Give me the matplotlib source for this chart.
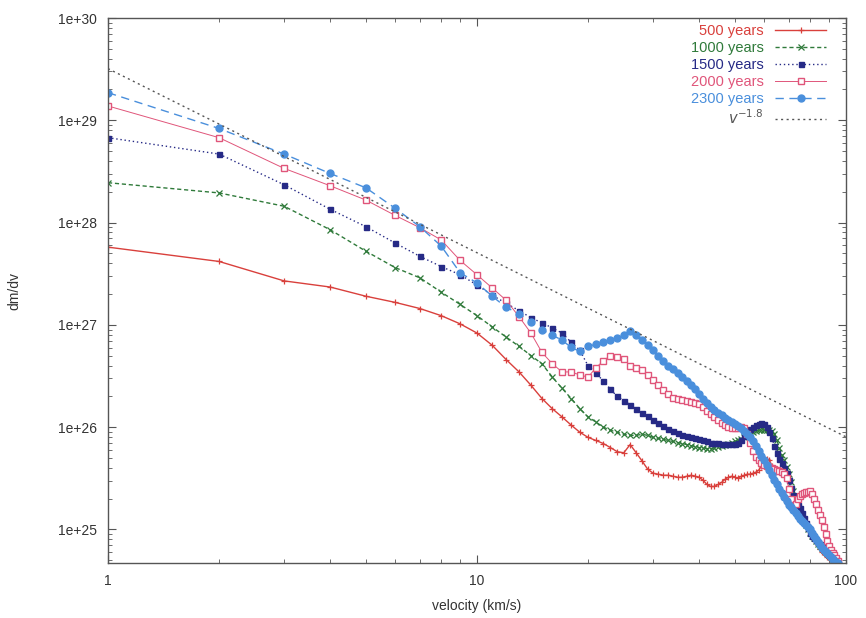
import numpy as np
import matplotlib
matplotlib.use("Agg")
import matplotlib.pyplot as plt
from matplotlib.ticker import FixedLocator, FuncFormatter, LogLocator, NullFormatter

plt.rcParams['font.family'] = ['Liberation Sans', 'DejaVu Sans']

# velocity bins (km/s)
velocity = np.arange(1, 96)

# log10(dm/dv), one value per km/s bin
log_dmdv_500 = [27.76, 27.62, 27.43, 27.37, 27.28, 27.22, 27.16, 27.09, 27.01, 26.92,
                26.80, 26.66, 26.54, 26.41, 26.28, 26.18, 26.10, 26.02, 25.95, 25.90,
                25.87, 25.84, 25.80, 25.76, 25.75, 25.83, 25.75, 25.67, 25.59, 25.55,
                25.54, 25.53, 25.53, 25.52, 25.51, 25.51, 25.52, 25.53, 25.52, 25.51,
                25.48, 25.44, 25.42, 25.42, 25.44, 25.46, 25.49, 25.51, 25.52, 25.51,
                25.50, 25.52, 25.53, 25.54, 25.54, 25.55, 25.56, 25.58, 25.62, 25.66,
                25.69, 25.68, 25.62, 25.54, 25.46, 25.40, 25.35, 25.30, 25.26, 25.23,
                25.21, 25.19, 25.17, 25.15, 25.13, 25.11, 25.09, 25.07, 25.04, 25.01,
                24.97, 24.93, 24.89, 24.85, 24.81, 24.78, 24.77, 24.75, 24.73, 24.72,
                24.71, 24.70, 24.69, 24.68, 24.67]

log_dmdv_1000 = [28.39, 28.29, 28.16, 27.93, 27.72, 27.56, 27.46, 27.32, 27.20, 27.09,
                 26.98, 26.88, 26.79, 26.70, 26.62, 26.49, 26.38, 26.28, 26.18, 26.10,
                 26.05, 26.00, 25.97, 25.95, 25.93, 25.92, 25.92, 25.93, 25.92, 25.90,
                 25.89, 25.88, 25.87, 25.86, 25.85, 25.84, 25.83, 25.82, 25.81, 25.80,
                 25.80, 25.79, 25.79, 25.80, 25.81, 25.82, 25.83, 25.84, 25.85, 25.86,
                 25.87, 25.88, 25.90, 25.92, 25.94, 25.95, 25.96, 25.97, 25.97, 25.97,
                 25.97, 25.97, 25.96, 25.93, 25.87, 25.80, 25.73, 25.68, 25.61, 25.54,
                 25.46, 25.38, 25.30, 25.23, 25.19, 25.14, 25.09, 25.04, 25.00, 24.97,
                 24.94, 24.92, 24.89, 24.86, 24.84, 24.82, 24.80, 24.78, 24.77, 24.75,
                 24.73, 24.71, 24.69, 24.67, 24.65]

log_dmdv_1500 = [28.83, 28.67, 28.37, 28.13, 27.96, 27.80, 27.67, 27.57, 27.49, 27.39,
                 27.29, 27.21, 27.14, 27.07, 27.02, 26.97, 26.92, 26.83, 26.75, 26.60,
                 26.53, 26.45, 26.37, 26.30, 26.26, 26.22, 26.18, 26.14, 26.11, 26.07,
                 26.04, 26.01, 25.98, 25.96, 25.94, 25.92, 25.91, 25.90, 25.89, 25.88,
                 25.87, 25.86, 25.85, 25.85, 25.85, 25.84, 25.84, 25.84, 25.84, 25.84,
                 25.85, 25.87, 25.91, 25.95, 25.98, 26.00, 26.02, 26.03, 26.04, 26.03,
                 26.00, 25.95, 25.89, 25.82, 25.75, 25.69, 25.65, 25.60, 25.55, 25.48,
                 25.41, 25.34, 25.28, 25.24, 25.21, 25.16, 25.11, 25.06, 25.01, 24.97,
                 24.94, 24.92, 24.90, 24.88, 24.86, 24.84, 24.82, 24.80, 24.77, 24.75,
                 24.73, 24.71, 24.69, 24.67, 24.65]

log_dmdv_2000 = [29.14, 28.83, 28.53, 28.36, 28.22, 28.07, 27.95, 27.83, 27.63, 27.49,
                 27.36, 27.24, 27.08, 26.92, 26.73, 26.62, 26.54, 26.54, 26.51, 26.49,
                 26.58, 26.65, 26.70, 26.69, 26.67, 26.60, 26.58, 26.56, 26.51, 26.46,
                 26.41, 26.36, 26.32, 26.29, 26.28, 26.27, 26.26, 26.25, 26.24, 26.23,
                 26.20, 26.16, 26.13, 26.10, 26.07, 26.04, 26.02, 26.00, 25.99, 25.99,
                 25.99, 26.00, 25.99, 25.93, 25.85, 25.77, 25.71, 25.68, 25.65, 25.63,
                 25.62, 25.61, 25.60, 25.59, 25.58, 25.57, 25.56, 25.54, 25.50, 25.40,
                 25.30, 25.23, 25.25, 25.30, 25.33, 25.35, 25.36, 25.37, 25.37, 25.38,
                 25.35, 25.30, 25.25, 25.19, 25.14, 25.09, 25.02, 24.96, 24.89, 24.84,
                 24.80, 24.77, 24.75, 24.72, 24.69]

log_dmdv_2300 = [29.27, 28.92, 28.67, 28.48, 28.34, 28.14, 27.96, 27.77, 27.51, 27.41,
                 27.28, 27.17, 27.11, 27.03, 26.95, 26.90, 26.85, 26.78, 26.74, 26.79,
                 26.81, 26.83, 26.85, 26.87, 26.90, 26.94, 26.90, 26.85, 26.80, 26.75,
                 26.70, 26.65, 26.60, 26.57, 26.53, 26.49, 26.45, 26.41, 26.37, 26.32,
                 26.28, 26.24, 26.20, 26.17, 26.14, 26.12, 26.09, 26.07, 26.05, 26.03,
                 26.01, 25.99, 25.96, 25.93, 25.90, 25.86, 25.82, 25.77, 25.72, 25.68,
                 25.63, 25.58, 25.53, 25.48, 25.44, 25.40, 25.36, 25.32, 25.28, 25.24,
                 25.22, 25.19, 25.16, 25.13, 25.10, 25.08, 25.06, 25.04, 25.02, 25.00,
                 24.97, 24.94, 24.91, 24.88, 24.85, 24.82, 24.80, 24.78, 24.77, 24.75,
                 24.73, 24.71, 24.69, 24.68, 24.67]

# power law reference: dm/dv = A * v^slope
powerlaw_amp = 3.2e29
powerlaw_slope = -1.8

labels = ['500 years', '1000 years', '1500 years', '2000 years', '2300 years']
colors = ['#d9403c', '#2f7a3a', '#262a86', '#e0557a', '#4a8fdc']

fig = plt.figure(figsize=(8.66, 6.18), dpi=100)
ax = fig.add_axes([108/866, 1 - 563/618, (846-108)/866, (563-18)/618])

ax.plot(velocity, 10**np.array(log_dmdv_500), color=colors[0], lw=1.0, ls='-',
        marker='+', ms=4.5, mew=0.9, label=labels[0])
ax.plot(velocity, 10**np.array(log_dmdv_1000), color=colors[1], lw=1.0, ls=(0, (3, 2)),
        marker='x', ms=4.5, mew=0.9, label=labels[1])
ax.plot(velocity, 10**np.array(log_dmdv_1500), color=colors[2], lw=1.0, ls=(0, (1, 2)),
        marker='s', ms=3.6, label=labels[2])
ax.plot(velocity, 10**np.array(log_dmdv_2000), color=colors[3], lw=0.7, ls='-',
        marker='s', ms=5, mfc='white', mew=1.0, label=labels[3])
ax.plot(velocity, 10**np.array(log_dmdv_2300), color=colors[4], lw=1.0, ls=(0, (6, 4)),
        marker='o', ms=5, label=labels[4])

v_line = np.linspace(1, 100, 200)
ax.plot(v_line, powerlaw_amp * v_line**powerlaw_slope, color='#555555', lw=1.0,
        ls=(0, (1.5, 2.5)), label=r'$v^{-1.8}$')

ax.set_xscale('log')
ax.set_yscale('log')
ax.set_xlim(1, 100)
ax.set_ylim(4.7e24, 1e30)

ax.xaxis.set_major_locator(FixedLocator([1, 10, 100]))
ax.xaxis.set_major_formatter(FuncFormatter(lambda v, _: f"{v:g}"))
ax.xaxis.set_minor_locator(LogLocator(base=10, subs=np.arange(2, 10)))
ax.xaxis.set_minor_formatter(NullFormatter())
ax.yaxis.set_major_locator(FixedLocator([1e25, 1e26, 1e27, 1e28, 1e29, 1e30]))
ax.yaxis.set_major_formatter(FuncFormatter(lambda v, _: f"1e+{int(round(np.log10(v)))}"))
ax.yaxis.set_minor_locator(LogLocator(base=10, subs=np.arange(2, 10)))
ax.yaxis.set_minor_formatter(NullFormatter())

ax.tick_params(which='both', direction='in', top=True, right=True, colors='#555555',
               labelcolor='#333333', labelsize=10)
ax.tick_params(which='major', length=6, width=0.8, pad=8)
ax.tick_params(which='minor', length=3, width=0.6)
for s in ax.spines.values():
    s.set_color('#555555')
    s.set_linewidth(1.0)

ax.set_xlabel('velocity (km/s)', fontsize=10, color='#333333', labelpad=8)
ax.set_ylabel('dm/dv', fontsize=10, color='#333333', labelpad=26)

leg = ax.legend(loc='upper right', bbox_to_anchor=(0.985, 1.005), markerfirst=False,
                frameon=False, labelcolor='linecolor', fontsize=10.5, handlelength=3.5,
                handletextpad=0.8, labelspacing=0.2, borderaxespad=0.2)

fig.savefig('out.png', dpi=100)
